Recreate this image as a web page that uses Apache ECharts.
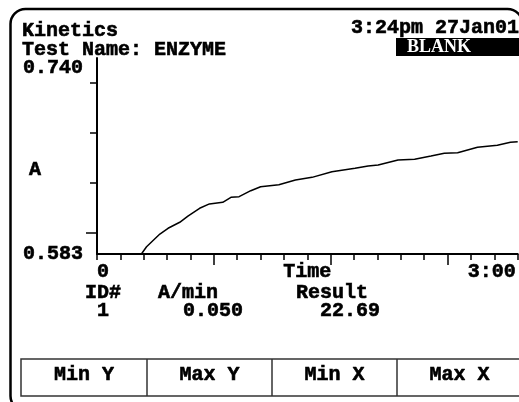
<!DOCTYPE html>
<html>
<head>
<meta charset="utf-8">
<script src="https://cdn.jsdelivr.net/npm/echarts@6/dist/echarts.min.js"></script>
<style>html,body{margin:0;padding:0;background:#fff;}#c{width:519px;height:402px;}</style>
</head>
<body>
<div id="c"></div>
<script>
// ---- data ----
const timeSec = [19, 21.2, 26.9, 30.4, 35.4, 38.9, 43.9, 48.1, 53.8, 57.3, 60.8, 65.8, 70, 77.8, 84.9, 92, 100.5, 110.4, 116, 120.3, 128.8, 135.9, 142.9, 148.6, 154.3, 162.8, 171.3, 176.9, 180];
const absorbance = [0.583, 0.5888, 0.5990, 0.6036, 0.6084, 0.6134, 0.6196, 0.6231, 0.6244, 0.6284, 0.6289, 0.6337, 0.6369, 0.6385, 0.6423, 0.6444, 0.6489, 0.6516, 0.6535, 0.6543, 0.6583, 0.6589, 0.6615, 0.6637, 0.6641, 0.6685, 0.6701, 0.6725, 0.6730];
const yRange = [0.583, 0.740];
const xRange = [0, 180];
const yMinorTicks = [0.64, 0.68, 0.72];
const yMajorTicks = [0.60];
const xMajorTicks = [50, 100, 150];
const xLabelValues = [0, 180];
const xLabelTexts = ['0', '3:00'];
const buttonLabels = ['Min Y', 'Max Y', 'Min X', 'Max X'];
const headerTitle = 'Kinetics';
const testName = 'Test Name: ENZYME';
const timestamp = '3:24pm 27Jan01';
const statusText = 'BLANK';
const resultHeaders = ['ID#', 'A/min', 'Result'];
const resultValues = ['1', '0.050', '22.69'];

const FONT = 'bold 20px "Liberation Mono", monospace';
const chart = echarts.init(document.getElementById('c'), null, {renderer: 'canvas'});

function txt(text, x, y, align, font, fill, heavy) {
  const f = fill || '#000';
  const style = {text: text, font: font || FONT, fill: f, textAlign: align || 'left', textVerticalAlign: 'middle'};
  if (heavy !== false) { style.stroke = f; style.lineWidth = 0.6; }
  return {type: 'text', x: x, y: y, silent: true, style: style};
}

const graphics = [
  {type: 'rect', shape: {x: 10.5, y: 9, width: 512, height: 402, r: 15}, style: {fill: 'none', stroke: '#000', lineWidth: 2.5}, silent: true},
  txt(headerTitle, 22, 31),
  txt(testName, 22, 50),
  txt(timestamp, 519, 28, 'right'),
  {type: 'rect', shape: {x: 396, y: 38, width: 130, height: 18}, style: {fill: '#000'}, silent: true},
  txt(statusText, 407, 47, 'left', 'bold 18px "Liberation Serif", serif', '#fff', false),
  txt('A', 35, 170, 'center'),
  txt(resultHeaders[0], 85, 293),
  txt(resultHeaders[1], 158, 293),
  txt(resultHeaders[2], 296, 293),
  txt(resultValues[0], 97, 311),
  txt(resultValues[1], 183, 311),
  txt(resultValues[2], 320, 311),
  {type: 'rect', shape: {x: 21, y: 359, width: 520, height: 37}, style: {fill: 'none', stroke: '#333', lineWidth: 1.5}, silent: true}
];
const cellEdges = [21, 147, 272, 397, 522];
for (let i = 1; i < 4; i++) {
  graphics.push({type: 'line', shape: {x1: cellEdges[i], y1: 359, x2: cellEdges[i], y2: 396}, style: {stroke: '#333', lineWidth: 1.5}, silent: true});
}
buttonLabels.forEach((b, i) => {
  graphics.push(txt(b, (cellEdges[i] + cellEdges[i + 1]) / 2, 375, 'center'));
});

const axisLineStyle = {color: '#000', width: 2};
const labelFont = {color: '#000', fontFamily: 'Liberation Mono', fontWeight: 'bold', fontSize: 20, textBorderColor: '#000', textBorderWidth: 0.6};
chart.setOption({
  animation: false,
  backgroundColor: '#fff',
  grid: {left: 97, top: 58, right: -1.6, bottom: 148, containLabel: false},
  xAxis: [{
    type: 'value', min: xRange[0], max: xRange[1], interval: 10,
    position: 'bottom',
    axisLine: {show: true, lineStyle: axisLineStyle},
    axisTick: {show: true, length: 6, lineStyle: {color: '#000', width: 1.5}},
    splitLine: {show: false},
    axisLabel: Object.assign({show: true, customValues: xLabelValues, margin: 8,
      alignMinLabel: 'left', alignMaxLabel: 'right', padding: [0, 2, 0, 0],
      formatter: v => xLabelTexts[xLabelValues.indexOf(v)] || ''}, labelFont),
    name: 'Time', nameLocation: 'middle', nameGap: 8, nameMoveOverlap: false,
    nameTextStyle: Object.assign({}, labelFont)
  }, {
    type: 'value', min: xRange[0], max: xRange[1], position: 'bottom',
    axisLine: {show: false},
    axisTick: {show: true, customValues: xMajorTicks, length: 11, lineStyle: {color: '#000', width: 1.5}},
    axisLabel: {show: false}, splitLine: {show: false}
  }],
  yAxis: [{
    type: 'value', min: yRange[0], max: yRange[1], position: 'left',
    axisLine: {show: true, lineStyle: axisLineStyle},
    axisTick: {show: true, customValues: yMinorTicks, length: 7, lineStyle: {color: '#000', width: 1.5}},
    splitLine: {show: false},
    axisLabel: Object.assign({show: true, customValues: yRange, margin: 14,
      verticalAlignMaxLabel: 'top',
      formatter: v => v.toFixed(3)}, labelFont)
  }, {
    type: 'value', min: yRange[0], max: yRange[1], position: 'left', offset: 0,
    axisLine: {show: false},
    axisTick: {show: true, customValues: yMajorTicks, length: 11, lineStyle: {color: '#000', width: 1.5}},
    axisLabel: {show: false}, splitLine: {show: false}
  }],
  series: [{
    type: 'line', xAxisIndex: 0, yAxisIndex: 0,
    data: timeSec.map((t, i) => [t, absorbance[i]]),
    showSymbol: false, symbol: 'none', smooth: false,
    lineStyle: {color: '#000', width: 1.5},
    clip: true
  }],
  graphic: graphics
});
</script>
</body>
</html>
